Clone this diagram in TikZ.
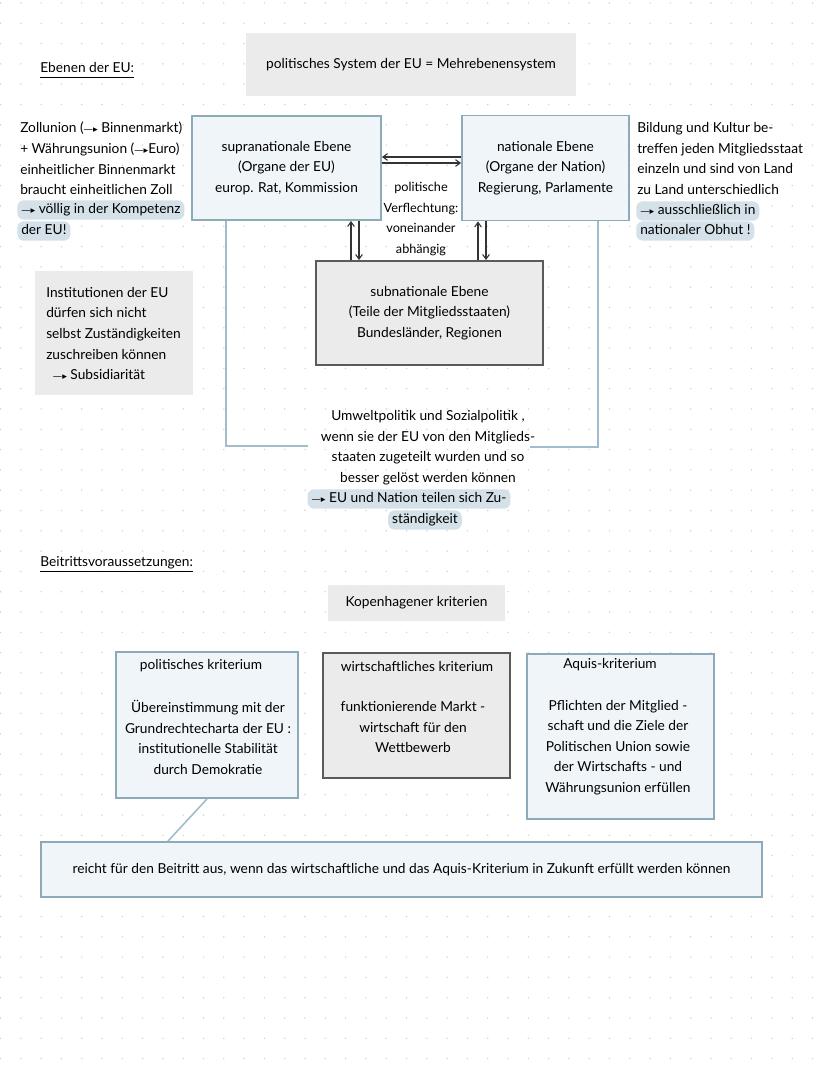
\documentclass[tikz,border=0pt]{standalone}
\usepackage{fontspec}
\setmainfont{Lato}
\newfontfamily\symfont{DejaVu Sans}
\usetikzlibrary{arrows.meta}
\definecolor{bluefill}{HTML}{EEF4F8}
\definecolor{blueline}{HTML}{8DAABB}
\definecolor{grayfill}{HTML}{E9E9E9}
\definecolor{darkline}{HTML}{5A5A5A}
\definecolor{hlcol}{HTML}{D4E1E8}
\definecolor{lineblue}{HTML}{A3BCCB}
\definecolor{dotcol}{HTML}{D2D2D2}
\newcommand{\arr}{{\symfont\fontsize{7}{8}\selectfont —▸}}
\tikzset{
  bluebox/.style={draw=blueline, fill=bluefill, line width=1.4pt, fill opacity=0.85, text opacity=1, align=center},
  graybox/.style={fill=grayfill, fill opacity=0.9, text opacity=1, align=center},
  darkbox/.style={draw=darkline, fill=grayfill, line width=1.4pt, fill opacity=0.9, text opacity=1, align=center},
  hl/.style={fill=hlcol, rounded corners=5pt, inner xsep=3pt, inner ysep=2pt, text height=8pt, text depth=2.5pt},
  conn/.style={draw=lineblue, line width=1.2pt},
  arw/.style={draw=black!80, line width=0.8pt, -{Straight Barb[length=3.5pt,width=5pt]}},
  txt/.style={align=left, anchor=west},
  ctxt/.style={align=center}
}
\begin{document}
\begin{tikzpicture}[x=0.75pt,y=-0.75pt, every node/.style={font=\fontsize{10.3}{15.4}\selectfont, inner sep=0pt}]
\useasboundingbox[fill=white] (0,0) rectangle (828,1069);
% dot grid
\foreach \i in {0,...,40} {
  \foreach \j in {0,...,52} {
    \fill[dotcol] (\i*20.3+0.5, \j*20.3+3) circle (0.6pt);
  }
}
% titles
\node[anchor=west] (t1) at (40,68) {Ebenen der EU:};
\draw[line width=0.8pt] ([yshift=-3.5pt]t1.base west) -- ([yshift=-3.5pt]t1.base east);
\node[graybox, minimum width=247.5pt, minimum height=47.25pt] (sys) at (411,64.5) {politisches System der EU = Mehrebenensystem};

% level boxes
\node[bluebox, minimum width=141.75pt, minimum height=78pt] (supra) at (286.5,168) {supranationale Ebene\\(Organe der EU)\\europ. Rat, Kommission};
\node[bluebox, minimum width=125.25pt, minimum height=78.75pt] (nat) at (545.5,168) {nationale Ebene\\(Organe der Nation)\\Regierung, Parlamente};
\node[darkbox, minimum width=170.25pt, minimum height=78pt] (sub) at (429.5,313) {subnationale Ebene\\(Teile der Mitgliedsstaaten)\\Bundesländer, Regionen};
\node[ctxt, font=\fontsize{9.5}{15.4}\selectfont] (verf) at (421,219) {politische\\Verflechtung:\\voneinander\\abhängig};

% arrows
\draw[arw] ([yshift=8.25pt]nat.west) -- ([yshift=8.25pt]supra.east);
\draw[arw] ([yshift=3.75pt]supra.east) -- ([yshift=3.75pt]nat.west);
\coordinate (cA) at (351,0);
\coordinate (cB) at (359,0);
\coordinate (cC) at (478,0);
\coordinate (cD) at (486,0);
\draw[arw] (cA |- sub.north) -- (cA |- supra.south);
\draw[arw] (cB |- supra.south) -- (cB |- sub.north);
\draw[arw] (cC |- sub.north) -- (cC |- nat.south);
\draw[arw] (cD |- nat.south) -- (cD |- sub.north);

% open lines
\coordinate (cE) at (226,0);
\coordinate (endL) at (308,446);
\draw[conn] (cE |- supra.south) |- (endL);
\coordinate (cF) at (598,0);
\coordinate (endR) at (530,447);
\draw[conn] (cF |- nat.south) |- (endR);

% left text
\node[txt] (lt) at (20,158.5) {Zollunion (\arr\ Binnenmarkt)\\+ Währungsunion (\arr Euro)\\einheitlicher Binnenmarkt\\braucht einheitlichen Zoll};
\node[hl, anchor=west] (lh1) at (17,210) {\arr\ völlig in der Kompetenz};
\node[hl, anchor=west] (lh2) at (17,231) {der EU!};

% right text
\node[txt] (rt) at (637,158.5) {Bildung und Kultur be-\\treffen jeden Mitgliedsstaat\\einzeln und sind von Land\\zu Land unterschiedlich};
\node[hl, anchor=west] (rh1) at (636,211) {\arr\ ausschließlich in};
\node[hl, anchor=west] (rh2) at (636,231) {nationaler Obhut !};

% subsidiarity box
\node[graybox, minimum width=118.5pt, minimum height=93pt] (subs) at (114,333) {};
\node[txt] (subst) at (46,333.5) {Institutionen der EU\\dürfen sich nicht\\selbst Zuständigkeiten\\zuschreiben können\\\hspace{5pt}\arr\ Subsidiarität};

% shared competences
\node[ctxt] (umw) at (428,447.5) {Umweltpolitik und Sozialpolitik ,\\wenn sie der EU von den Mitglieds-\\staaten zugeteilt wurden und so\\besser gelöst werden können};
\node[hl] (uh1) at (409,499) {\arr\ EU und Nation teilen sich Zu-};
\node[hl] (uh2) at (425,520) {ständigkeit};

% second part
\node[anchor=west] (t2) at (40,563) {Beitrittsvoraussetzungen:};
\draw[line width=0.8pt] ([yshift=-3.5pt]t2.base west) -- ([yshift=-3.5pt]t2.base east);
\node[graybox, minimum width=132.75pt, minimum height=27pt] (kop) at (416.5,603) {Kopenhagener kriterien};

\node[bluebox, minimum width=136.5pt, minimum height=109.5pt] (pol) at (207,725) {};
\node (polt) at (201,666) {politisches kriterium};
\node[ctxt] (polb) at (208,737.5) {Übereinstimmung mit der\\Grundrechtecharta der EU :\\institutionelle Stabilität\\durch Demokratie};

\node[darkbox, minimum width=140.25pt, minimum height=93.75pt] (wirt) at (416.5,715.5) {};
\node (wirtt) at (417,666) {wirtschaftliches kriterium};
\node[ctxt] (wirtb) at (413,727) {funktionierende Markt -\\wirtschaft für den\\Wettbewerb};

\node[bluebox, minimum width=140.25pt, minimum height=123.75pt] (aq) at (620.5,736.5) {};
\node (aqt) at (610,665) {Aquis-kriterium};
\node[ctxt] (aqb) at (618,747.5) {Pflichten der Mitglied -\\schaft und die Ziele der\\Politischen Union sowie\\der Wirtschafts - und\\Währungsunion erfüllen};

\node[bluebox, minimum width=540.75pt, minimum height=41.25pt] (bot) at (401.5,869.5) {reicht für den Beitritt aus, wenn das wirtschaftliche und das Aquis-Kriterium in Zukunft erfüllt werden können};
\coordinate (cG) at (168,0);
\draw[conn] (pol.south) -- (cG |- bot.north);
\end{tikzpicture}
\end{document}
